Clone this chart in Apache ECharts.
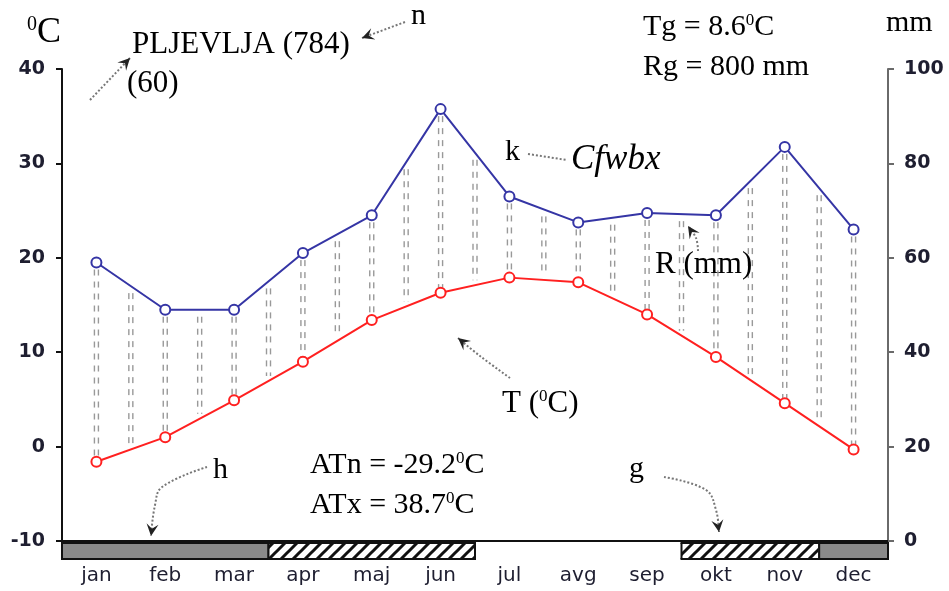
<!DOCTYPE html>
<html>
<head>
<meta charset="utf-8">
<script src="https://cdn.jsdelivr.net/npm/echarts@6/dist/echarts.min.js"></script>
<style>
  html, body { margin: 0; padding: 0; background: #fff; }
  #chart { width: 949px; height: 591px; }
</style>
</head>
<body>
<div id="chart"></div>
<script>
// climate diagram, Pljevlja
const months = ['jan', 'feb', 'mar', 'apr', 'maj', 'jun', 'jul', 'avg', 'sep', 'okt', 'nov', 'dec'];
const temperature = [-1.6, 1.0, 4.9, 9.0, 13.4, 16.3, 17.9, 17.4, 14.0, 9.5, 4.6, -0.3];
const precipitation = [59, 49, 49, 61, 69, 91.5, 73, 67.5, 69.5, 69, 83.5, 66];
// 2 = grey (frost), 1 = hatched, 0 = none
const frostMonths = [2, 2, 2, 1, 1, 1, 0, 0, 0, 1, 1, 2];
const tempTicks = [-10, 40, 10];
const rainTicks = [0, 100, 20];

const serif = '"Liberation Serif", "Times New Roman", serif';
const sans = '"DejaVu Sans", Verdana, sans-serif';

// mm value that sits at the same height as a temperature
function tempToMm(t){
    return rainTicks[0] + (t - tempTicks[0]) * (rainTicks[1] - rainTicks[0]) / (tempTicks[1] - tempTicks[0]);
}

function hatchPattern(){
    let c = document.createElement('canvas');
    c.width = 12; c.height = 12;
    let ctx = c.getContext('2d');
    ctx.fillStyle = '#fff';
    ctx.fillRect(0, 0, 12, 12);
    ctx.strokeStyle = '#111';
    ctx.lineWidth = 3;
    ctx.beginPath();
    ctx.moveTo(-3, 15); ctx.lineTo(15, -3);
    ctx.moveTo(-9, 9); ctx.lineTo(9, -9);
    ctx.moveTo(3, 21); ctx.lineTo(21, 3);
    ctx.stroke();
    return c;
}
const hatch = hatchPattern();

function columnLines(x, yTop, yBot){
    let out = [];
    if(yBot - yTop < 4) return out;
    for(let dx of [-2, 2]){
        out.push({
            type: 'line',
            shape: {x1: x + dx, y1: yTop, x2: x + dx, y2: yBot},
            style: {stroke: '#999', lineWidth: 1.4, lineDash: [6, 6]}
        });
    }
    return out;
}

function renderColumns(params, api){
    let i = api.value(0);
    let top = api.coord([i, precipitation[i]]);
    let bot = api.coord([i, tempToMm(temperature[i])]);
    let children = columnLines(top[0], top[1] + 7, bot[1] - 5);
    if(i < months.length - 1){
        let top2 = api.coord([i + 1, precipitation[i + 1]]);
        let bot2 = api.coord([i + 1, tempToMm(temperature[i + 1])]);
        let x = (top[0] + top2[0]) / 2;
        children = children.concat(columnLines(x, (top[1] + top2[1]) / 2 + 7, (bot[1] + bot2[1]) / 2 - 5));
    }
    return {type: 'group', children: children};
}

function renderStrip(params, api){
    let i = api.value(0);
    let code = api.value(1);
    if(code == 0) return null;
    let p = api.coord([i, tempTicks[0]]);
    let w = api.size([1, 0])[0];
    let x0 = p[0] - w / 2, x1 = p[0] + w / 2;
    let y0 = p[1] + 2, y1 = p[1] + 18;
    let edge = {stroke: '#111', lineWidth: 2};
    let children = [{
        type: 'rect',
        shape: {x: x0 - 0.5, y: y0, width: w + 1, height: y1 - y0},
        style: {fill: code == 2 ? '#8a8a8a' : {image: hatch, repeat: 'repeat'}}
    }, {
        type: 'line', shape: {x1: x0 - 1, y1: y0, x2: x1 + 1, y2: y0}, style: edge
    }, {
        type: 'line', shape: {x1: x0 - 1, y1: y1, x2: x1 + 1, y2: y1}, style: edge
    }];
    if(i == 0 || frostMonths[i - 1] != code){
        children.push({type: 'line', shape: {x1: x0, y1: y0, x2: x0, y2: y1}, style: edge});
    }
    if(i == months.length - 1 || frostMonths[i + 1] != code){
        children.push({type: 'line', shape: {x1: x1, y1: y0, x2: x1, y2: y1}, style: edge});
    }
    return {type: 'group', children: children};
}

function txt(x, y, text, size, extra){
    return {
        type: 'text', x: x, y: y, z: 50,
        style: Object.assign({
            text: text,
            fontFamily: serif,
            fontSize: size,
            fill: '#000',
            verticalAlign: 'middle',
            rich: {
                s: {fontFamily: serif, fontSize: Math.round(size * 0.55), verticalAlign: 'top', fill: '#000'},
                n: {fontFamily: serif, fontSize: size, fill: '#000'}
            }
        }, extra || {})
    };
}

function arrow(points, head, smooth){
    let items = [{
        type: 'polyline', z: 40,
        shape: {points: points, smooth: smooth || 0},
        style: {stroke: '#777', lineWidth: 2, lineDash: [2, 2], fill: null}
    }];
    if(head){
        let a = points[points.length - 1], b = points[points.length - 2];
        let ang = Math.atan2(a[1] - b[1], a[0] - b[0]);
        let L = 12, W = 6;
        let bx = a[0] - L * Math.cos(ang), by = a[1] - L * Math.sin(ang);
        let nx = -Math.sin(ang) * W, ny = Math.cos(ang) * W;
        items.push({
            type: 'polygon', z: 41,
            shape: {points: [a, [bx + nx, by + ny], [a[0] - 0.6 * L * Math.cos(ang), a[1] - 0.6 * L * Math.sin(ang)], [bx - nx, by - ny]]},
            style: {fill: '#222'}
        });
    }
    return items;
}

let graphics = [
    txt(27, 33, '{s|0}{n|C}', 36),
    txt(132, 45, 'PLJEVLJA (784)', 31),
    txt(127, 84, '(60)', 31),
    txt(411, 16, 'n', 30),
    txt(643, 27, '{n|Tg = 8.6}{s|0}{n|C}', 30),
    txt(643, 67, 'Rg = 800 mm', 30),
    txt(886, 23, 'mm', 30),
    txt(505, 152, 'k', 30),
    txt(571, 160, 'Cfwbx', 35, {fontStyle: 'italic'}),
    txt(655, 265, 'R (mm)', 31),
    txt(502, 404, '{n|T (}{s|0}{n|C)}', 31),
    txt(310, 465, '{n|ATn = -29.2}{s|0}{n|C}', 30),
    txt(310, 505, '{n|ATx = 38.7}{s|0}{n|C}', 30),
    txt(213, 470, 'h', 30),
    txt(629, 469, 'g', 30)
].concat(
    arrow([[90, 100], [130, 58]], true),
    arrow([[405, 22], [362, 38]], true),
    arrow([[528, 154], [567, 160]], false),
    arrow([[698, 251], [696, 238], [688, 226]], true, 0.4),
    arrow([[510, 378], [480, 356], [458, 338]], true, 0.4),
    arrow([[207, 467], [162, 487], [155, 505], [151, 536]], true, 0.4),
    arrow([[664, 477], [706, 490], [716, 510], [719, 532]], true, 0.4)
);

const chart = echarts.init(document.getElementById('chart'), null, {renderer: 'canvas'});

chart.setOption({
    animation: false,
    backgroundColor: '#fff',
    grid: {left: 62, right: 61, top: 69, bottom: 50},
    xAxis: {
        type: 'category',
        data: months,
        boundaryGap: true,
        axisLine: {onZero: false, lineStyle: {color: '#111', width: 2}},
        axisTick: {alignWithLabel: true, inside: true, length: 5, lineStyle: {color: '#111', width: 2}},
        axisLabel: {color: '#1e1e30', fontFamily: sans, fontSize: 20, margin: 25},
        splitLine: {show: false}
    },
    yAxis: [{
        type: 'value',
        min: tempTicks[0], max: tempTicks[1], interval: tempTicks[2],
        position: 'left',
        axisLine: {show: true, lineStyle: {color: '#111', width: 2}},
        axisTick: {show: true, length: 6, lineStyle: {color: '#111', width: 2}},
        axisLabel: {color: '#1e1e30', fontFamily: sans, fontSize: 19, fontWeight: 'bold', margin: 17},
        splitLine: {show: false}
    }, {
        type: 'value',
        min: rainTicks[0], max: rainTicks[1], interval: rainTicks[2],
        position: 'right',
        axisLine: {show: true, lineStyle: {color: '#6a6a6a', width: 2}},
        axisTick: {show: true, length: 6, lineStyle: {color: '#6a6a6a', width: 2}},
        axisLabel: {color: '#1e1e30', fontFamily: sans, fontSize: 19, fontWeight: 'bold', margin: 16},
        splitLine: {show: false}
    }],
    graphic: graphics,
    series: [{
        type: 'custom',
        name: 'humid',
        yAxisIndex: 1,
        z: 1,
        renderItem: renderColumns,
        data: months.map((m, i) => [i])
    }, {
        type: 'custom',
        name: 'frost',
        yAxisIndex: 0,
        z: 3,
        clip: false,
        renderItem: renderStrip,
        data: frostMonths.map((v, i) => [i, v])
    }, {
        type: 'line',
        name: 'R (mm)',
        yAxisIndex: 1,
        z: 5,
        data: precipitation,
        symbol: 'circle',
        symbolSize: 10,
        itemStyle: {color: '#fff', borderColor: '#3535a5', borderWidth: 2},
        lineStyle: {color: '#3535a5', width: 2}
    }, {
        type: 'line',
        name: 'T (C)',
        yAxisIndex: 0,
        z: 5,
        data: temperature,
        symbol: 'circle',
        symbolSize: 10,
        itemStyle: {color: '#fff', borderColor: '#ff2020', borderWidth: 2},
        lineStyle: {color: '#ff2020', width: 2}
    }]
});
</script>
</body>
</html>
